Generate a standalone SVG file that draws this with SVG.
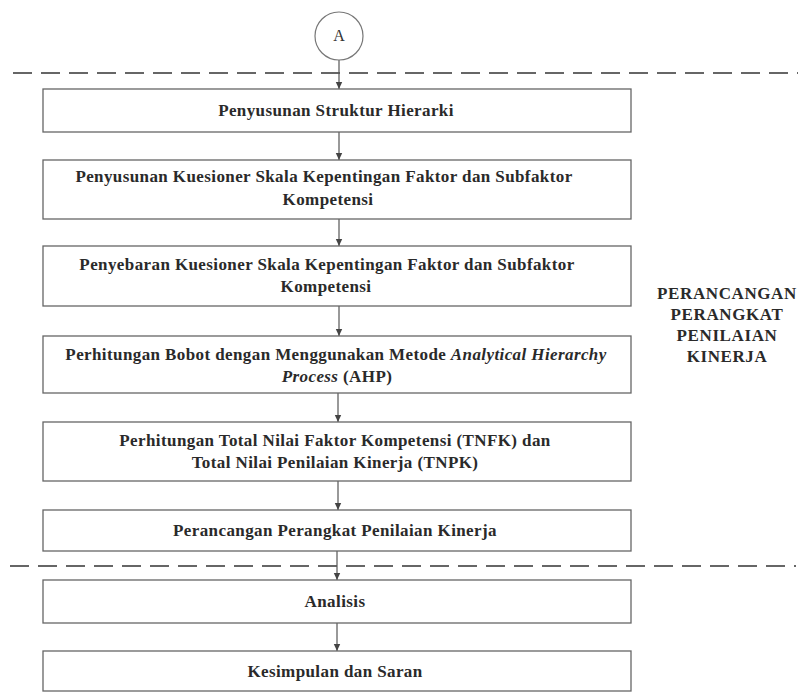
<svg xmlns="http://www.w3.org/2000/svg" width="798" height="693" viewBox="0 0 798 693">
<defs>
<marker id="ah" markerWidth="8" markerHeight="8" refX="7" refY="4" orient="auto" markerUnits="userSpaceOnUse">
<path d="M0,0.8 L7,4 L0,7.2 Z" fill="#444"/>
</marker>
<style>
.box{fill:#fff;stroke:#666;stroke-width:1.3}
.t{font-family:"Liberation Serif","Times New Roman",serif;font-size:17px;font-weight:bold;fill:#2a2a2a;text-anchor:middle;letter-spacing:0.4px}
.it{font-style:italic}
.side{font-family:"Liberation Serif","Times New Roman",serif;font-size:17px;font-weight:bold;fill:#2a2a2a;text-anchor:middle;letter-spacing:0.6px}
.conn{stroke:#555;stroke-width:1.2;fill:none}
.dash{stroke:#666;stroke-width:2;stroke-dasharray:19 9;fill:none}
</style>
</defs>
<rect width="798" height="693" fill="#fff"/>
<line class="dash" x1="13" y1="73" x2="798" y2="73"/>
<line class="dash" x1="10" y1="566" x2="796" y2="566"/>
<g id="connectors">
<line class="conn" x1="339" y1="60" x2="339" y2="89" marker-end="url(#ah)"/>
<line class="conn" x1="339" y1="132" x2="339" y2="160" marker-end="url(#ah)"/>
<line class="conn" x1="339" y1="219" x2="339" y2="246" marker-end="url(#ah)"/>
<line class="conn" x1="339" y1="306" x2="339" y2="336" marker-end="url(#ah)"/>
<line class="conn" x1="338" y1="393" x2="338" y2="422" marker-end="url(#ah)"/>
<line class="conn" x1="338" y1="481" x2="338" y2="510" marker-end="url(#ah)"/>
<line class="conn" x1="337" y1="551" x2="337" y2="580" marker-end="url(#ah)"/>
<line class="conn" x1="337" y1="623" x2="337" y2="651" marker-end="url(#ah)"/>
</g>
<g id="nodeA">
<circle cx="339" cy="36" r="24" fill="#fff" stroke="#777" stroke-width="1.2"/>
<text x="339" y="41" font-family="'Liberation Serif',serif" font-size="16" fill="#333" text-anchor="middle">A</text>
</g>
<g id="n1">
<rect class="box" x="43" y="89" width="588" height="43"/>
<text class="t" x="336" y="116">Penyusunan Struktur Hierarki</text>
</g>
<g id="n2">
<rect class="box" x="43" y="160" width="588" height="59"/>
<text class="t" x="324" y="182">Penyusunan Kuesioner Skala Kepentingan Faktor dan Subfaktor</text>
<text class="t" x="328" y="205">Kompetensi</text>
</g>
<g id="n3">
<rect class="box" x="43" y="246" width="588" height="60"/>
<text class="t" x="327" y="270">Penyebaran Kuesioner Skala Kepentingan Faktor dan Subfaktor</text>
<text class="t" x="326" y="292">Kompetensi</text>
</g>
<g id="n4">
<rect class="box" x="43" y="336" width="588" height="57"/>
<text class="t" x="336" y="360">Perhitungan Bobot dengan Menggunakan Metode <tspan class="it">Analytical Hierarchy</tspan></text>
<text class="t" x="337" y="382"><tspan class="it">Process</tspan> (AHP)</text>
</g>
<g id="n5">
<rect class="box" x="43" y="422" width="588" height="59"/>
<text class="t" x="335" y="446">Perhitungan Total Nilai Faktor Kompetensi (TNFK) dan</text>
<text class="t" x="335" y="468">Total Nilai Penilaian Kinerja (TNPK)</text>
</g>
<g id="n6">
<rect class="box" x="43" y="510" width="588" height="41"/>
<text class="t" x="335" y="536">Perancangan Perangkat Penilaian Kinerja</text>
</g>
<g id="n7">
<rect class="box" x="43" y="580" width="588" height="43"/>
<text class="t" x="335" y="607">Analisis</text>
</g>
<g id="n8">
<rect class="box" x="43" y="651" width="588" height="40"/>
<text class="t" x="335" y="677">Kesimpulan dan Saran</text>
</g>
<g id="label">
<text class="side" x="727" y="299">PERANCANGAN</text>
<text class="side" x="727" y="320">PERANGKAT</text>
<text class="side" x="727" y="341">PENILAIAN</text>
<text class="side" x="727" y="362">KINERJA</text>
</g>
</svg>
